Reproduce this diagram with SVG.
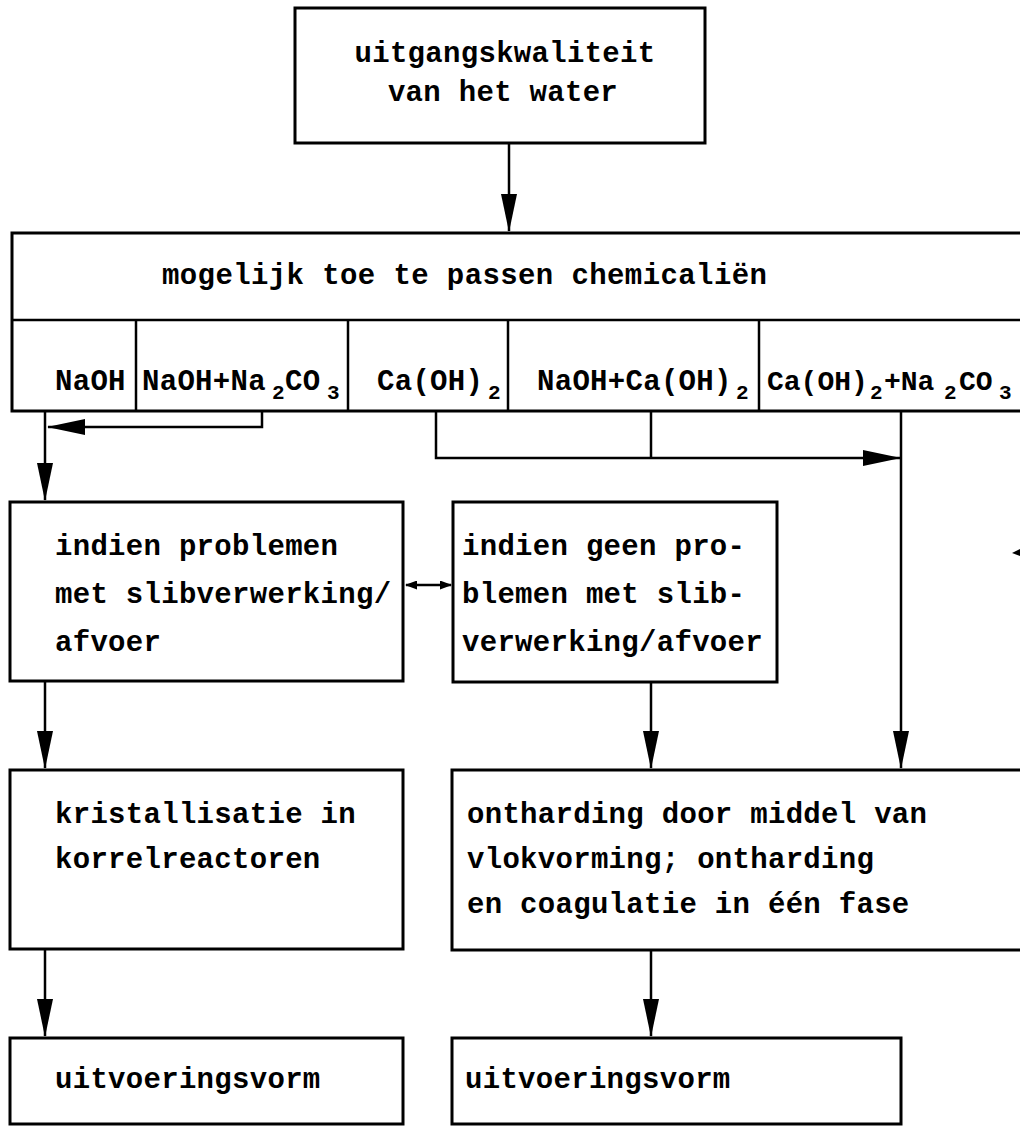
<svg xmlns="http://www.w3.org/2000/svg" width="1020" height="1126" viewBox="0 0 1020 1126">
<style>
.box{fill:none;stroke:#000;stroke-width:3}
.sep{stroke:#000;stroke-width:2.5}
.ln{fill:none;stroke:#000;stroke-width:2.5}
.t{font-family:"Courier New","Liberation Mono",monospace;font-weight:bold;font-size:29px;letter-spacing:0.3px;fill:#000}
.sub{font-size:21px}
.narrow{font-size:28px;letter-spacing:0}
</style>
<defs>
<marker id="ah" viewBox="0 0 38 16" refX="37" refY="8" markerWidth="38" markerHeight="16" markerUnits="userSpaceOnUse" orient="auto">
<path d="M0,0 L38,8 L0,16 z" fill="#000"/>
</marker>
<marker id="sh" viewBox="0 0 12 9" refX="11" refY="4.5" markerWidth="12" markerHeight="9" markerUnits="userSpaceOnUse" orient="auto-start-reverse">
<path d="M0,0 L12,4.5 L0,9 z" fill="#000"/>
</marker>
</defs>
<rect width="1020" height="1126" fill="#fff"/>

<g id="n-uitgang">
<rect class="box" x="295" y="8" width="410" height="135"/>
<text class="t" x="505" y="62" text-anchor="middle">uitgangskwaliteit</text>
<text class="t" x="503" y="101" text-anchor="middle">van het water</text>
</g>

<g id="n-chemicalien">
<rect class="box" x="12" y="233" width="1030" height="178"/>
<line class="sep" x1="12" y1="320" x2="1020" y2="320"/>
<text class="t" x="162" y="284" style="letter-spacing:0.4px">mogelijk toe te passen chemicaliën</text>
</g>

<g id="n-naoh">
<line class="sep" x1="136" y1="320" x2="136" y2="411"/>
<text class="t" x="55" y="390">NaOH</text>
</g>
<g id="n-naoh-na2co3">
<line class="sep" x1="348" y1="320" x2="348" y2="411"/>
<text class="t" x="142" y="390">NaOH+Na<tspan class="sub" x="272" y="399">2</tspan><tspan x="285" y="390">CO</tspan><tspan class="sub" x="327" y="399">3</tspan></text>
</g>
<g id="n-caoh2">
<line class="sep" x1="508" y1="320" x2="508" y2="411"/>
<text class="t" x="377" y="390">Ca(OH)<tspan class="sub" x="488" y="399">2</tspan></text>
</g>
<g id="n-naoh-caoh2">
<line class="sep" x1="759" y1="320" x2="759" y2="411"/>
<text class="t" x="537" y="390">NaOH+Ca(OH)<tspan class="sub" x="736" y="399">2</tspan></text>
</g>
<g id="n-caoh2-na2co3">
<text class="t narrow" x="767" y="390">Ca(OH)<tspan class="sub" x="870" y="399">2</tspan><tspan x="884" y="390">+Na</tspan><tspan class="sub" x="944" y="399">2</tspan><tspan x="959" y="390">CO</tspan><tspan class="sub" x="999" y="399">3</tspan></text>
</g>

<g id="n-problemen">
<rect class="box" x="10" y="502" width="393" height="179"/>
<text class="t" x="55" y="555">indien problemen</text>
<text class="t" x="55" y="603">met slibverwerking/</text>
<text class="t" x="55" y="651">afvoer</text>
</g>

<g id="n-geen-problemen">
<rect class="box" x="453" y="502" width="324" height="180"/>
<text class="t" x="462" y="555">indien geen pro-</text>
<text class="t" x="462" y="603">blemen met slib-</text>
<text class="t" x="462" y="651">verwerking/afvoer</text>
</g>

<g id="n-kristallisatie">
<rect class="box" x="10" y="770" width="393" height="179"/>
<text class="t" x="55" y="823">kristallisatie in</text>
<text class="t" x="55" y="868">korrelreactoren</text>
</g>

<g id="n-ontharding">
<rect class="box" x="452" y="770" width="590" height="180"/>
<text class="t" x="467" y="823">ontharding door middel van</text>
<text class="t" x="467" y="868">vlokvorming; ontharding</text>
<text class="t" x="467" y="913">en coagulatie in één fase</text>
</g>

<g id="n-uitvoering-1">
<rect class="box" x="10" y="1038" width="393" height="86"/>
<text class="t" x="55" y="1088">uitvoeringsvorm</text>
</g>

<g id="n-uitvoering-2">
<rect class="box" x="452" y="1038" width="449" height="86"/>
<text class="t" x="465" y="1088">uitvoeringsvorm</text>
</g>

<g id="connectors">
<line class="ln" x1="509" y1="143" x2="509" y2="231" marker-end="url(#ah)"/>
<polyline class="ln" points="262,411 262,427 48,427" marker-end="url(#ah)"/>
<line class="ln" x1="45" y1="411" x2="45" y2="500" marker-end="url(#ah)"/>
<polyline class="ln" points="436,411 436,458 900,458" marker-end="url(#ah)"/>
<line class="ln" x1="651" y1="411" x2="651" y2="458"/>
<line class="ln" x1="901" y1="411" x2="901" y2="768" marker-end="url(#ah)"/>
<line class="ln" x1="406" y1="585" x2="451" y2="585" marker-start="url(#sh)" marker-end="url(#sh)"/>
<line class="ln" x1="45" y1="681" x2="45" y2="768" marker-end="url(#ah)"/>
<line class="ln" x1="651" y1="682" x2="651" y2="768" marker-end="url(#ah)"/>
<line class="ln" x1="45" y1="949" x2="45" y2="1036" marker-end="url(#ah)"/>
<line class="ln" x1="651" y1="950" x2="651" y2="1036" marker-end="url(#ah)"/>
<path d="M1012,553 L1020,549 L1020,556 z" fill="#000"/>
</g>
</svg>
